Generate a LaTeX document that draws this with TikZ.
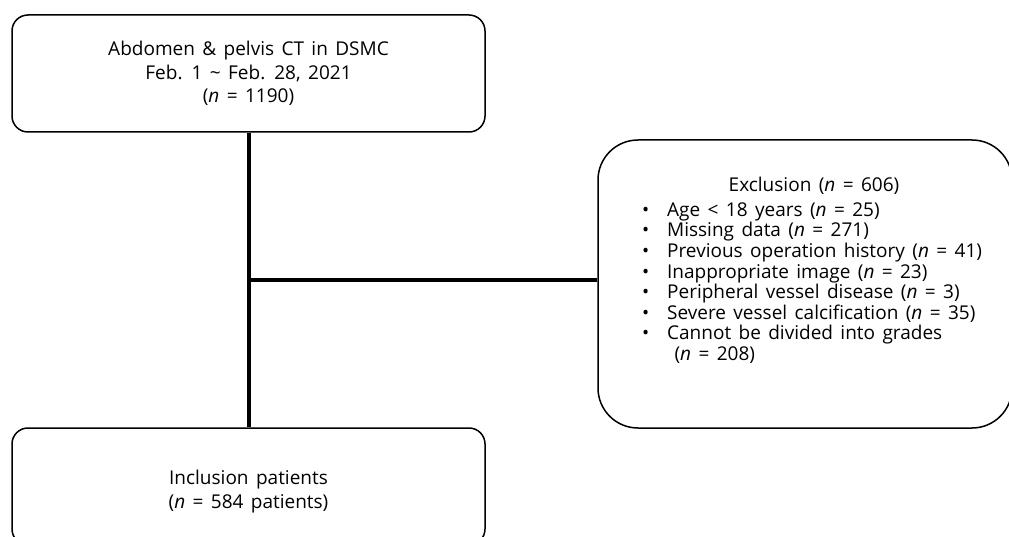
\documentclass[tikz,border=0pt]{standalone}
\usepackage{fontspec}
\setmainfont{Open Sans}[WordSpace=1.5]
\usetikzlibrary{positioning}
\tikzset{
  stagebox/.style={draw, line width=1.5pt, rounded corners=16pt, align=center,
    minimum width=473pt, minimum height=117pt, font=\fontsize{19}{23.5}\selectfont},
  exclbox/.style={draw, line width=1.5pt, rounded corners=40pt,
    minimum width=414pt, minimum height=288pt, font=\fontsize{19}{20.5}\selectfont},
  flowline/.style={line width=4pt}
}
\newcommand{\nn}{\textit{n}}

\begin{document}
\begin{tikzpicture}[x=1pt,y=-1pt]
    \useasboundingbox (0,0) rectangle (1009,537);
    \node[stagebox] (ct) at (248.5,73.5) {Abdomen \& pelvis CT in DSMC\\Feb. 1 \textasciitilde{} Feb. 28, 2021\\(\nn{} = 1190)};
    \node[stagebox] (incl) at (248.5,486.5) {\rule{0pt}{25pt}Inclusion patients\\(\nn{} = 584 patients)};
    \node[exclbox] (excl) at (805,284) {%
        \hspace*{14pt}\begin{tabular}{@{}l@{\hspace{18pt}}l@{}}
        \multicolumn{2}{c}{\hspace{4pt}Exclusion (\nn{} = 606)}\\[4pt]
        \textbullet & Age < 18 years (\nn{} = 25)\\
        \textbullet & Missing data (\nn{} = 271)\\
        \textbullet & Previous operation history (\nn{} = 41)\\
        \textbullet & Inappropriate image (\nn{} = 23)\\
        \textbullet & Peripheral vessel disease (\nn{} = 3)\\
        \textbullet & Severe vessel calcification (\nn{} = 35)\\
        \textbullet & Cannot be divided into grades\\
                    & \ (\nn{} = 208)\\[24pt]
        \end{tabular}};
    \coordinate (branch) at (248.5,280);

    \draw[flowline] (ct.south) -- (incl.north);
    \draw[flowline] (branch) -- (branch -| excl.west);
\end{tikzpicture}
\end{document}
